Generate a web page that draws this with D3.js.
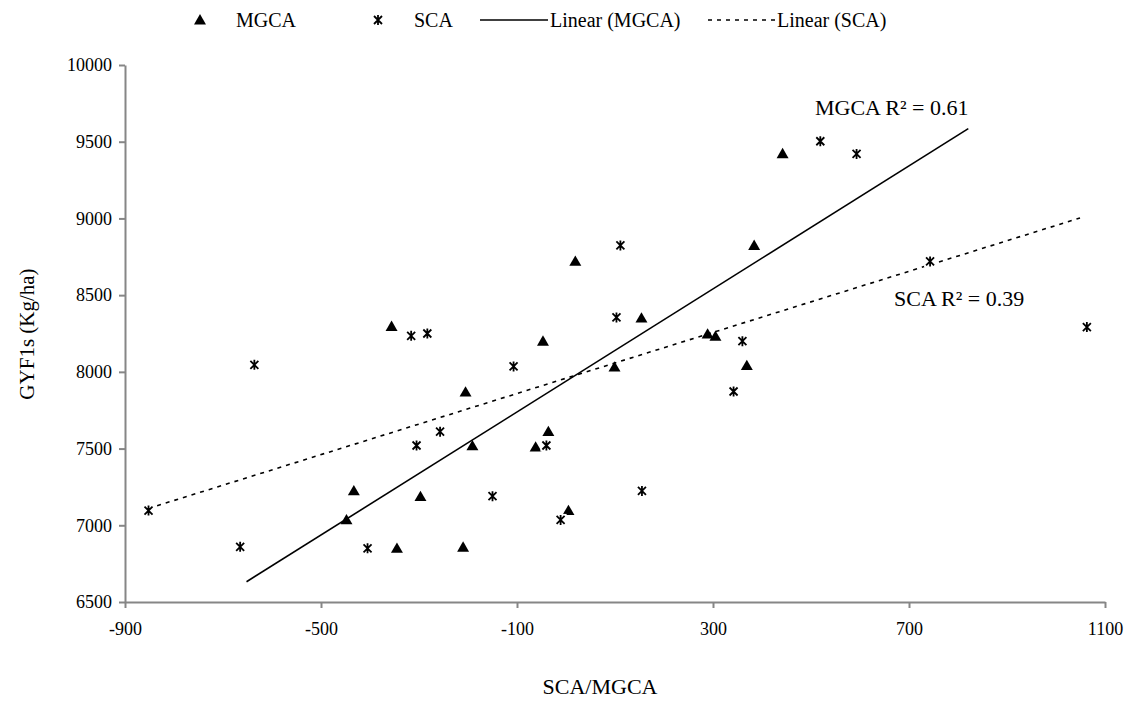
<!DOCTYPE html>
<html>
<head>
<meta charset="utf-8">
<script src="https://cdn.jsdelivr.net/npm/d3@7"></script>
<style>
body { margin: 0; background: #fff; }
text { font-family: "Liberation Serif", "Times New Roman", serif; fill: #000; }
</style>
</head>
<body>
<svg></svg>
<script>
var screen = {width: 1130, height: 704}
var margins = {top: 65, right: 25, bottom: 102, left: 125}

// MGCA points (x = SCA/MGCA, y = GYF1s)
var mgcaX = [-356, -433, -448, -297, -345, 154, -47, -205, 99, -191, -36, -62, 5, -210, 289, 305, 369, 442, 384, 19]
var mgcaY = [8296, 7224, 7035, 7187, 6850, 8350, 8200, 7868, 8031, 7518, 7611, 7510, 7096, 6857, 8246, 8231, 8041, 9422, 8824, 8720]

// SCA points
var scaX = [-852, -636, -665, -316, -283, -305, -257, -405, 103, -107, -40, -150, -11, 155, 360, 342, 519, 593, 111, 743, 1063]
var scaY = [7096, 8046, 6860, 8235, 8250, 7520, 7610, 6850, 8355, 8035, 7520, 7190, 7035, 7224, 8200, 7872, 9503, 9420, 8824, 8720, 8292]

// trendline end points
var mgcaTrendX = [-652, 821]
var mgcaTrendY = [6632, 9585]
var scaTrendX = [-852, 1049]
var scaTrendY = [7110, 9003]

var xTicks = [-900, -500, -100, 300, 700, 1100]
var yTicks = [6500, 7000, 7500, 8000, 8500, 9000, 9500, 10000]

var legendItems = ["MGCA", "SCA", "Linear (MGCA)", "Linear (SCA)"]

var width = screen.width - margins.left - margins.right
var height = screen.height - margins.top - margins.bottom

var svg = d3.select("svg")
    .attr("width", screen.width)
    .attr("height", screen.height)

var xScale = d3.scaleLinear()
    .domain([-900, 1100])
    .range([0, 980])
var yScale = d3.scaleLinear()
    .domain([6500, 10000])
    .range([537, 0])

var graph = svg.append("g")
    .attr("transform", "translate(" + margins.left + "," + margins.top + ")")

var axisColor = "#868686"
var plain = function(d){return String(d)}

var xAxis = d3.axisBottom(xScale).tickValues(xTicks).tickFormat(plain).tickSize(6).tickPadding(14).tickSizeOuter(0)
var yAxis = d3.axisLeft(yScale).tickValues(yTicks).tickFormat(plain).tickSize(6).tickPadding(7).tickSizeOuter(0)

var gx = graph.append("g")
    .attr("transform", "translate(0," + 537 + ")")
    .call(xAxis)
    .attr("font-family", "Liberation Serif")
    .attr("font-size", 18)
var gy = graph.append("g")
    .call(yAxis)
    .attr("font-family", "Liberation Serif")
    .attr("font-size", 18)

graph.selectAll(".domain, .tick line")
    .attr("stroke", axisColor)
    .attr("stroke-width", 2)
graph.selectAll(".tick text")
    .attr("fill", "#000")

// axis titles
svg.append("text")
    .attr("x", 600)
    .attr("y", 694)
    .attr("text-anchor", "middle")
    .style("font-size", "22px")
    .text("SCA/MGCA")

svg.append("text")
    .attr("transform", "translate(34,334) rotate(-90)")
    .attr("text-anchor", "middle")
    .style("font-size", "21px")
    .text("GYF1s (Kg/ha)")

// trend lines
var line = d3.line()
    .x(function(d){return xScale(d[0])})
    .y(function(d){return yScale(d[1])})

graph.append("path")
    .datum(d3.zip(mgcaTrendX, mgcaTrendY))
    .attr("d", line)
    .attr("fill", "none")
    .attr("stroke", "#000")
    .attr("stroke-width", 1.6)

graph.append("path")
    .datum(d3.zip(scaTrendX, scaTrendY))
    .attr("d", line)
    .attr("fill", "none")
    .attr("stroke", "#000")
    .attr("stroke-width", 1.6)
    .attr("stroke-dasharray", "4,5")

var tri = d3.symbol().type(d3.symbolTriangle).size(62)

var drawStar = function(sel)
{
    sel.append("rect")
        .attr("x", -6).attr("y", -6).attr("width", 12).attr("height", 12)
        .attr("fill", "#fff")
    sel.append("path")
        .attr("d", "M-4,-4L4,4M-4,4L4,-4M0,-5L0,5")
        .attr("stroke", "#000")
        .attr("stroke-width", 1.8)
}

graph.selectAll(".mgca")
    .data(d3.zip(mgcaX, mgcaY))
    .enter()
    .append("path")
    .attr("class", "mgca")
    .attr("d", tri)
    .attr("fill", "#000")
    .attr("transform", function(d){return "translate(" + xScale(d[0]) + "," + (yScale(d[1]) + 1) + ")"})

graph.selectAll(".sca")
    .data(d3.zip(scaX, scaY))
    .enter()
    .append("g")
    .attr("class", "sca")
    .attr("transform", function(d){return "translate(" + xScale(d[0]) + "," + yScale(d[1]) + ")"})
    .call(drawStar)

// R² labels
svg.append("text")
    .attr("x", 815).attr("y", 115)
    .style("font-size", "22px")
    .text("MGCA R\u00b2 = 0.61")
svg.append("text")
    .attr("x", 894).attr("y", 306)
    .style("font-size", "22px")
    .text("SCA R\u00b2 = 0.39")

// legend
var legend = svg.append("g").attr("id", "legend")

legend.append("path")
    .attr("d", tri)
    .attr("fill", "#000")
    .attr("transform", "translate(200,21)")
legend.append("text").attr("x", 236).attr("y", 27).style("font-size", "20px").text(legendItems[0])

legend.append("g").attr("transform", "translate(378,20)").call(drawStar)
legend.append("text").attr("x", 414).attr("y", 27).style("font-size", "20px").text(legendItems[1])

legend.append("line")
    .attr("x1", 480).attr("x2", 548).attr("y1", 20).attr("y2", 20)
    .attr("stroke", "#000").attr("stroke-width", 1.6)
legend.append("text").attr("x", 550).attr("y", 27).style("font-size", "20px").text(legendItems[2])

legend.append("line")
    .attr("x1", 708).attr("x2", 775).attr("y1", 20).attr("y2", 20)
    .attr("stroke", "#000").attr("stroke-width", 1.6)
    .attr("stroke-dasharray", "4,5")
legend.append("text").attr("x", 777).attr("y", 27).style("font-size", "20px").text(legendItems[3])
</script>
</body>
</html>
